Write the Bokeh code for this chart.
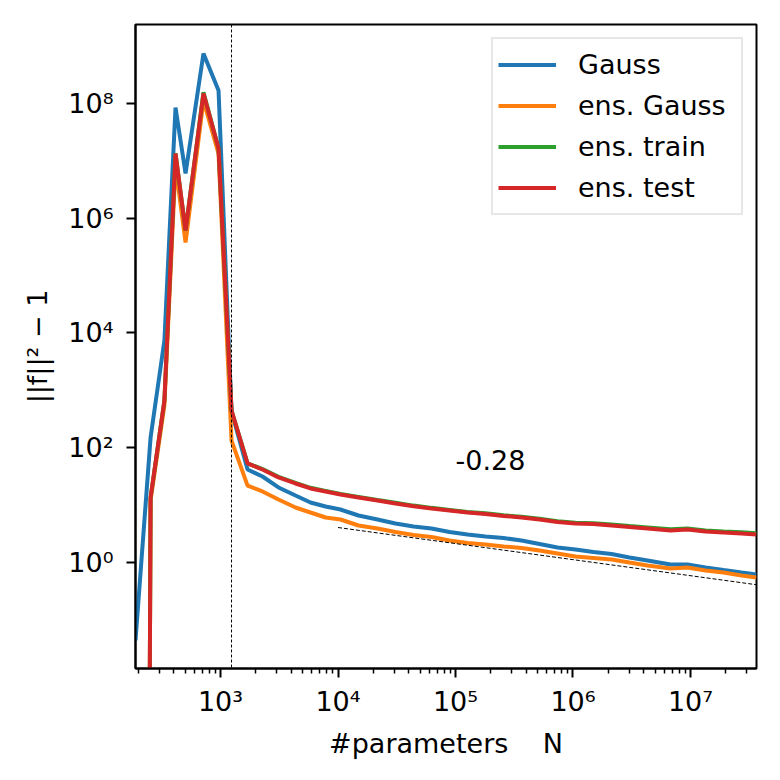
from bokeh.plotting import figure
from bokeh.models import Range1d, FixedTicker, Span, ColumnDataSource
from bokeh.embed import file_html
from bokeh.resources import INLINE
from bokeh.core.properties import value

# ---- data ----
n_params = [189, 254, 333, 414, 504, 716, 962, 1241, 1699, 2277, 3116, 4348, 5834, 7833,
            10500, 14940, 21680, 30830, 43930, 62520, 88950, 126500, 179900, 256400,
            364800, 519000, 738400, 1050000, 1494000, 2128000, 3027000, 4306000,
            6760000, 9420000, 13420000, 19090000, 27160000, 36460000]

gauss = [0.0438, 150.6, 7380, 8.45e7, 5.98e6, 7.38e8, 1.67e8, 427, 41.7, 31.5, 20.3, 14.7,
         11.1, 9.46, 8.38, 6.59, 5.61, 4.78, 4.24, 3.91, 3.40, 3.07, 2.84, 2.67, 2.42, 2.10,
         1.82, 1.68, 1.52, 1.41, 1.22, 1.08, 0.923, 0.923, 0.818, 0.740, 0.670, 0.618]

# first value is non-positive in the source (clipped on a log axis)
ens_gauss = [1e-60, 12.0, 543, 8.24e6, 3.76e5, 1.12e8, 1.33e7, 133, 21.9, 17.3, 12.5, 9.08,
             7.43, 6.08, 5.61, 4.41, 3.91, 3.40, 3.01, 2.78, 2.42, 2.19, 2.06, 1.90, 1.79,
             1.62, 1.44, 1.27, 1.20, 1.13, 1.00, 0.887, 0.786, 0.818, 0.726, 0.670, 0.594, 0.548]

ens_train = [1e-60, 13.6, 664, 1.35e7, 6.1e5, 1.55e8, 1.65e7, 445, 53.5, 42.5, 31.0, 24.3,
             20.0, 17.7, 15.6, 13.9, 12.3, 11.0, 9.8, 8.95, 8.25, 7.6, 7.2, 6.65, 6.25, 5.8,
             5.25, 4.95, 4.85, 4.6, 4.32, 4.08, 3.78, 3.92, 3.62, 3.48, 3.35, 3.22]

ens_test = [1e-60, 13.6, 664, 1.33e7, 6.08e5, 1.48e8, 1.63e7, 445, 53.1, 41.7, 30.3, 23.8,
            19.5, 17.3, 15.3, 13.6, 12.0, 10.7, 9.57, 8.73, 8.06, 7.43, 7.00, 6.46, 6.08,
            5.61, 5.08, 4.78, 4.69, 4.41, 4.15, 3.91, 3.61, 3.76, 3.47, 3.33, 3.20, 3.07]

series_names = ["Gauss", "ens. Gauss", "ens. train", "ens. test"]
series_colors = ["#1f77b4", "#ff7f0e", "#2ca02c", "#d62728"]

n_star = 1241                       # interpolation threshold (dashed vertical line)
fit_N = [1e4, 3.646e7]              # power-law guide, slope -0.28
fit_val = [4.07, 0.41]
note_x = [1e5]
note_y = [62]
note_text = ["-0.28"]

x_ticks = [1e3, 1e4, 1e5, 1e6, 1e7]
x_tick_labels = ["10\u00b3", "10\u2074", "10\u2075", "10\u2076", "10\u2077"]
y_ticks = [1, 1e2, 1e4, 1e6, 1e8]
y_tick_labels = ["10\u2070", "10\u00b2", "10\u2074", "10\u2076", "10\u2078"]
x_minor = [m * 10 ** e for e in range(2, 8) for m in range(2, 10)]

x_lim = (189, 3.646e7)
y_lim = (0.01423, 2.36e9)

FONT = "DejaVu Sans"
FS = "27px"

p = figure(x_axis_type="log", y_axis_type="log",
           x_range=Range1d(*x_lim), y_range=Range1d(*y_lim),
           frame_width=621, frame_height=644,
           min_border_left=135, min_border_right=16, min_border_top=24, min_border_bottom=92,
           output_backend="svg", toolbar_location=None)

p.background_fill_color = "white"
p.border_fill_color = "white"
p.xgrid.visible = False
p.ygrid.visible = False
p.outline_line_color = "black"
p.outline_line_width = 2
p.outline_line_alpha = 1

# lines
all_series = [gauss, ens_gauss, ens_train, ens_test]
for name, col, vals in zip(series_names, series_colors, all_series):
    src = ColumnDataSource(dict(x=n_params, y=vals))
    p.line("x", "y", source=src, line_color=col, line_width=4, legend_label=name)

p.add_layout(Span(location=n_star, dimension="height", line_color="black",
                  line_width=1, line_dash="3 2"))
p.line(fit_N, fit_val, line_color="black", line_width=1, line_dash="4 2")
p.text(note_x, note_y, text=note_text, text_font=value(FONT), text_font_size=FS,
       text_align="left", text_baseline="alphabetic", text_color="black")

# axes
xa = p.xaxis[0]
ya = p.yaxis[0]
xa.ticker = FixedTicker(ticks=x_ticks, minor_ticks=x_minor)
ya.ticker = FixedTicker(ticks=y_ticks, minor_ticks=[])
xa.major_label_overrides = {t: l for t, l in zip(x_ticks, x_tick_labels)}
ya.major_label_overrides = {t: l for t, l in zip(y_ticks, y_tick_labels)}
xa.axis_label = "#parameters\u00a0\u00a0\u00a0\u00a0N"
ya.axis_label = "||f||\u00b2 \u2212 1"
for ax in (xa, ya):
    ax.axis_line_width = 2
    ax.axis_line_color = "black"
    ax.major_tick_line_width = 2
    ax.major_tick_out = 9
    ax.major_tick_in = 0
    ax.minor_tick_line_width = 1.5
    ax.minor_tick_out = 5
    ax.minor_tick_in = 0
    ax.major_label_text_font = FONT
    ax.major_label_text_font_size = FS
    ax.major_label_text_color = "black"
    ax.axis_label_text_font = FONT
    ax.axis_label_text_font_size = FS
    ax.axis_label_text_font_style = "normal"
    ax.axis_label_text_color = "black"
xa.major_label_standoff = 8
ya.major_label_standoff = 13
xa.axis_label_standoff = 8
ya.axis_label_standoff = 12

# legend
lg = p.legend[0]
lg.location = "top_right"
lg.margin = 13
lg.padding = 5
lg.spacing = 0
lg.glyph_width = 58
lg.glyph_height = 41
lg.label_height = 41
lg.label_width = 158
lg.label_standoff = 22
lg.label_text_font = FONT
lg.label_text_font_size = FS
lg.label_text_color = "black"
lg.border_line_color = "#d0d0d0"
lg.border_line_width = 2
lg.background_fill_alpha = 0.8

open("out.html", "w").write(file_html(p, INLINE))
